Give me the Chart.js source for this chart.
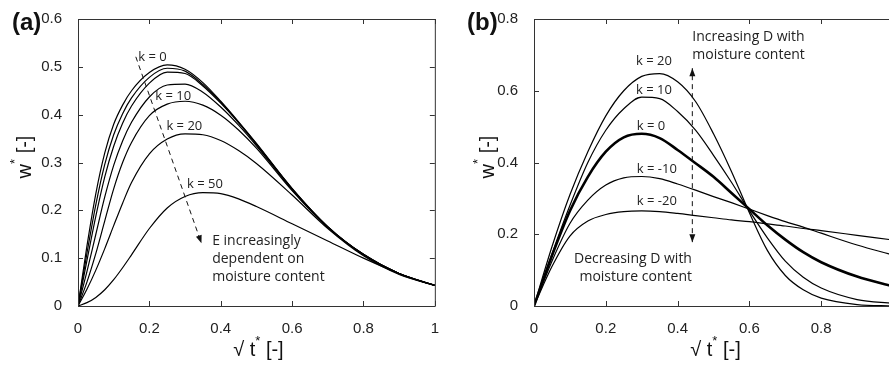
<!DOCTYPE html>
<html>
<head>
<meta charset="utf-8">
<script src="https://cdn.jsdelivr.net/npm/chart.js@4.4.1/dist/chart.umd.min.js"></script>
<style>
  html, body { margin: 0; padding: 0; width: 889px; height: 365px; overflow: hidden; background: #fff; }
  canvas { position: absolute; top: 0; }
  #chartA { left: 0; }
  #chartB { left: 445px; }
</style>
</head>
<body>
<canvas id="chartA" width="445" height="365"></canvas>
<canvas id="chartB" width="460" height="365"></canvas>
<script>
// ---- data, panel (a): E dependent on moisture content ----
const xsA = [0, 0.025, 0.05, 0.075, 0.1, 0.125, 0.15, 0.2, 0.25, 0.3, 0.35, 0.4, 0.45, 0.5, 0.6, 0.7, 0.8, 0.9, 1.0];
const a_k0  = [0, 0.125, 0.235, 0.32, 0.38, 0.42, 0.45, 0.488, 0.504, 0.495, 0.467, 0.428, 0.385, 0.34, 0.246, 0.166, 0.108, 0.068, 0.043];
const a_k1  = [0, 0.11, 0.212, 0.296, 0.358, 0.402, 0.435, 0.478, 0.497, 0.491, 0.463, 0.426, 0.384, 0.339, 0.245, 0.166, 0.108, 0.068, 0.043];
const a_k2  = [0, 0.095, 0.188, 0.27, 0.334, 0.382, 0.418, 0.466, 0.489, 0.486, 0.46, 0.424, 0.383, 0.338, 0.245, 0.165, 0.108, 0.068, 0.043];
const a_k5  = [0, 0.072, 0.15, 0.228, 0.294, 0.345, 0.384, 0.437, 0.462, 0.464, 0.447, 0.416, 0.378, 0.335, 0.243, 0.165, 0.107, 0.068, 0.043];
const a_k10 = [0, 0.05, 0.11, 0.178, 0.245, 0.3, 0.342, 0.398, 0.422, 0.428, 0.42, 0.399, 0.368, 0.33, 0.241, 0.164, 0.107, 0.067, 0.043];
const a_k20 = [0, 0.035, 0.075, 0.12, 0.168, 0.215, 0.258, 0.318, 0.349, 0.36, 0.358, 0.346, 0.325, 0.298, 0.232, 0.162, 0.105, 0.066, 0.043];
const a_k50 = [0, 0.007, 0.018, 0.034, 0.055, 0.08, 0.107, 0.162, 0.205, 0.229, 0.237, 0.235, 0.224, 0.208, 0.172, 0.136, 0.1, 0.068, 0.043];

// ---- data, panel (b): D dependent on moisture content ----
const xsB = [0, 0.05, 0.1, 0.15, 0.2, 0.25, 0.3, 0.35, 0.4, 0.45, 0.5, 0.55, 0.6, 0.65, 0.7, 0.75, 0.8, 0.9, 1.0];
const b_k20  = [0, 0.165, 0.31, 0.43, 0.53, 0.6, 0.64, 0.648, 0.625, 0.57, 0.48, 0.375, 0.26, 0.155, 0.085, 0.045, 0.022, 0.004, 0];
const b_k10  = [0, 0.145, 0.28, 0.4, 0.49, 0.55, 0.582, 0.578, 0.542, 0.49, 0.42, 0.345, 0.265, 0.19, 0.125, 0.08, 0.05, 0.018, 0.007];
const b_k0   = [0, 0.14, 0.265, 0.36, 0.43, 0.47, 0.48, 0.468, 0.435, 0.398, 0.36, 0.315, 0.27, 0.225, 0.185, 0.15, 0.122, 0.082, 0.055];
const b_km10 = [0, 0.125, 0.23, 0.295, 0.337, 0.357, 0.361, 0.355, 0.34, 0.323, 0.305, 0.288, 0.27, 0.252, 0.235, 0.22, 0.203, 0.17, 0.142];
const b_km20 = [0, 0.11, 0.195, 0.237, 0.255, 0.263, 0.265, 0.263, 0.258, 0.252, 0.246, 0.24, 0.235, 0.229, 0.223, 0.216, 0.21, 0.197, 0.184];

const ticksA_y = [0, 0.1, 0.2, 0.3, 0.4, 0.5, 0.6];
const ticksB_y = [0, 0.2, 0.4, 0.6, 0.8];
const ticks_x = [0, 0.2, 0.4, 0.6, 0.8, 1];

const axisColor = '#333';
const tickFont = { family: '"Liberation Sans", Arial, sans-serif', size: 15 };
const noteFont = '"Open Sans", "Noto Sans", sans-serif';

function pts(xs, ys) {
  return xs.map((x, i) => ({ x: x, y: ys[i] }));
}

function line(label, xs, ys, width) {
  return {
    label: label,
    data: pts(xs, ys),
    borderColor: '#000',
    borderWidth: width || 1.2,
    pointRadius: 0,
    fill: false,
    cubicInterpolationMode: 'monotone'
  };
}

function fmt(v) {
  return String(Number(v.toFixed(1)));
}

// draws text pieces side by side, some of them raised (superscript)
function drawRich(ctx, parts, cx, cy) {
  let total = 0;
  parts.forEach(p => { ctx.font = p.font; p.w = ctx.measureText(p.t).width; total += p.w; });
  let x = cx - total / 2;
  parts.forEach(p => {
    ctx.font = p.font;
    ctx.fillText(p.t, x, cy + (p.dy || 0));
    x += p.w;
  });
}

function arrowHead(ctx, x1, y1, x2, y2) {
  const ang = Math.atan2(y2 - y1, x2 - x1);
  const len = 8, half = 3;
  ctx.beginPath();
  ctx.moveTo(x2, y2);
  ctx.lineTo(x2 - len * Math.cos(ang) + half * Math.sin(ang), y2 - len * Math.sin(ang) - half * Math.cos(ang));
  ctx.lineTo(x2 - len * Math.cos(ang) - half * Math.sin(ang), y2 - len * Math.sin(ang) + half * Math.cos(ang));
  ctx.closePath();
  ctx.fill();
}

function decorPlugin(o) {
  return {
    id: 'decor',
    afterDraw(chart) {
      const { ctx, chartArea: a, scales: { x, y } } = chart;
      ctx.save();
      // frame
      ctx.strokeStyle = axisColor;
      ctx.lineWidth = 1;
      ctx.beginPath();
      ctx.moveTo(a.left + 0.5, a.top + 0.5);
      ctx.lineTo(a.left + 0.5, a.bottom + 0.5);
      ctx.lineTo(a.right + 0.5, a.bottom + 0.5);
      if (o.rightBorder) ctx.lineTo(a.right + 0.5, a.top + 0.5);
      ctx.moveTo(a.left + 0.5, a.top + 0.5);
      ctx.lineTo(a.right + 0.5, a.top + 0.5);
      ctx.stroke();
      // inward ticks
      const tl = 5;
      ctx.beginPath();
      x.ticks.forEach(t => {
        const px = Math.round(x.getPixelForValue(t.value)) + 0.5;
        ctx.moveTo(px, a.bottom); ctx.lineTo(px, a.bottom - tl);
        ctx.moveTo(px, a.top); ctx.lineTo(px, a.top + tl);
      });
      y.ticks.forEach(t => {
        const py = Math.round(y.getPixelForValue(t.value)) + 0.5;
        ctx.moveTo(a.left, py); ctx.lineTo(a.left + tl, py);
        if (o.rightBorder) { ctx.moveTo(a.right, py); ctx.lineTo(a.right - tl, py); }
      });
      ctx.stroke();

      // panel letter
      ctx.fillStyle = '#111';
      ctx.textBaseline = 'middle';
      ctx.textAlign = 'left';
      ctx.font = 'bold 24px "Liberation Sans", Arial, sans-serif';
      ctx.fillText(o.letter, o.letterX, 23);

      // axis titles
      const big = '20px "Liberation Sans", Arial, sans-serif';
      const small = '13px "Liberation Sans", Arial, sans-serif';
      ctx.textAlign = 'left';
      ctx.textBaseline = 'middle';
      drawRich(ctx, [
        { t: '\u221A', font: big },
        { t: ' t', font: big },
        { t: '*', font: small, dy: -9 },
        { t: ' [-]', font: big }
      ], (a.left + a.right) / 2 + 2, 350);
      ctx.save();
      ctx.translate(o.yTitleX, 157);
      ctx.rotate(-Math.PI / 2);
      drawRich(ctx, [
        { t: 'w', font: big },
        { t: '*', font: small, dy: -10 },
        { t: ' [-]', font: big }
      ], 0, 0);
      ctx.restore();

      // curve labels
      ctx.fillStyle = '#222';
      ctx.textAlign = 'center';
      ctx.font = '13px ' + noteFont;
      o.labels.forEach(l => {
        ctx.fillText(l.t, x.getPixelForValue(l.x), y.getPixelForValue(l.y));
      });
      // notes
      ctx.font = '14px ' + noteFont;
      o.notes.forEach(n => {
        ctx.textAlign = n.align;
        n.lines.forEach((s, i) => {
          ctx.fillText(s, x.getPixelForValue(n.x), y.getPixelForValue(n.y) + i * 18);
        });
      });
      // dashed arrows
      ctx.strokeStyle = '#111';
      ctx.fillStyle = '#111';
      ctx.lineWidth = 1;
      o.arrows.forEach(r => {
        const x1 = x.getPixelForValue(r.x1), y1 = y.getPixelForValue(r.y1);
        const x2 = x.getPixelForValue(r.x2), y2 = y.getPixelForValue(r.y2);
        ctx.setLineDash([5, 4]);
        ctx.beginPath(); ctx.moveTo(x1, y1); ctx.lineTo(x2, y2); ctx.stroke();
        ctx.setLineDash([]);
        arrowHead(ctx, x1, y1, x2, y2);
        if (r.both) arrowHead(ctx, x2, y2, x1, y1);
      });
      ctx.restore();
    }
  };
}

function makeOptions(yMax, yTicks, yWidth, rightPad) {
  return {
    responsive: false,
    animation: false,
    events: [],
    layout: { padding: { top: 19, right: rightPad, left: 0, bottom: 0 } },
    plugins: { legend: { display: false }, tooltip: { enabled: false } },
    scales: {
      x: {
        type: 'linear', min: 0, max: 1,
        afterBuildTicks: s => { s.ticks = ticks_x.map(v => ({ value: v })); },
        afterFit: s => { s.height = 59; },
        grid: { display: false },
        border: { display: false },
        ticks: { font: tickFont, color: '#222', padding: 6, maxRotation: 0, callback: v => fmt(v) }
      },
      y: {
        type: 'linear', min: 0, max: yMax,
        afterBuildTicks: s => { s.ticks = yTicks.map(v => ({ value: v })); },
        afterFit: s => { s.width = yWidth; },
        grid: { display: false },
        border: { display: false },
        ticks: { font: tickFont, color: '#222', padding: 8, callback: v => fmt(v) }
      }
    }
  };
}

const optsA = makeOptions(0.6, ticksA_y, 78, 8);
new Chart(document.getElementById('chartA'), {
  type: 'line',
  data: {
    datasets: [
      line('k = 0', xsA, a_k0),
      line('k = 1', xsA, a_k1),
      line('k = 2', xsA, a_k2),
      line('k = 5', xsA, a_k5),
      line('k = 10', xsA, a_k10),
      line('k = 20', xsA, a_k20),
      line('k = 50', xsA, a_k50)
    ]
  },
  options: optsA,
  plugins: [decorPlugin({
    letter: '(a)', letterX: 12, yTitleX: 25, rightBorder: true,
    labels: [
      { t: 'k = 0', x: 0.209, y: 0.52 },
      { t: 'k = 10', x: 0.267, y: 0.439 },
      { t: 'k = 20', x: 0.298, y: 0.376 },
      { t: 'k = 50', x: 0.356, y: 0.255 }
    ],
    notes: [
      { lines: ['E increasingly', 'dependent on', 'moisture content'], x: 0.376, y: 0.136, align: 'left' }
    ],
    arrows: [
      { x1: 0.162, y1: 0.521, x2: 0.346, y2: 0.131 }
    ]
  })]
});

const optsB = makeOptions(0.8, ticksB_y, 89, 12);
new Chart(document.getElementById('chartB'), {
  type: 'line',
  data: {
    datasets: [
      line('k = 20', xsB, b_k20),
      line('k = 10', xsB, b_k10),
      line('k = 0', xsB, b_k0, 2.6),
      line('k = -10', xsB, b_km10),
      line('k = -20', xsB, b_km20)
    ]
  },
  options: optsB,
  plugins: [decorPlugin({
    letter: '(b)', letterX: 22, yTitleX: 43, rightBorder: false,
    labels: [
      { t: 'k = 20', x: 0.334, y: 0.681 },
      { t: 'k = 10', x: 0.334, y: 0.602 },
      { t: 'k = 0', x: 0.326, y: 0.502 },
      { t: 'k = -10', x: 0.342, y: 0.382 },
      { t: 'k = -20', x: 0.342, y: 0.291 }
    ],
    notes: [
      { lines: ['Increasing D with', 'moisture content'], x: 0.441, y: 0.749, align: 'left' },
      { lines: ['Decreasing D with', 'moisture content'], x: 0.44, y: 0.131, align: 'right' }
    ],
    arrows: [
      { x1: 0.441, y1: 0.178, x2: 0.441, y2: 0.663, both: true }
    ]
  })]
});
</script>
</body>
</html>
